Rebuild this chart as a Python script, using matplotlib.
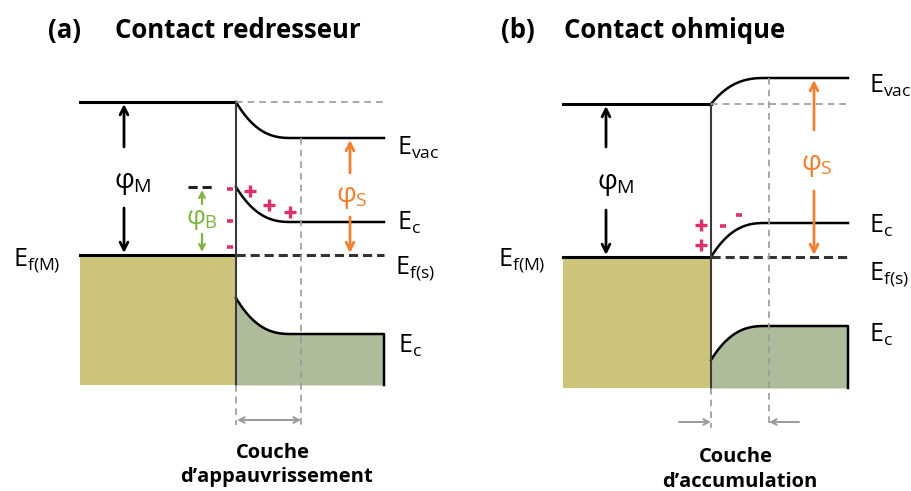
import numpy as np
import matplotlib
matplotlib.use("Agg")
from matplotlib import pyplot as plt

plt.rcParams['font.family'] = ['Open Sans', 'DejaVu Sans']
plt.rcParams['mathtext.fontset'] = 'custom'
plt.rcParams['mathtext.rm'] = 'Open Sans'
plt.rcParams['mathtext.it'] = 'Open Sans'

# niveaux d'énergie (pixels, y vers le bas)
# panneau (a) : contact redresseur
xa = [80, 236, 292, 384]        # bord métal, interface, fin de courbure, bord droit
evac_a = [102, 138]             # vide : interface, volume
ec_a = [187, 222]
ef_a = 255
ev_a = [298, 334]
bas_a = 385
zone_a = 301                    # limite de la couche d'appauvrissement

# panneau (b) : contact ohmique
xb = [563, 711, 766, 848]
evac_b = [104, 78]
ec_b = [257, 223]
ef_b = 257
ev_b = [360, 326]
bas_b = 388
zone_b = 769

# charges
plus_a = [(250, 191), (269, 205), (290, 212)]
moins_a = [(230, 189), (230, 221), (230, 247)]
plus_b = [(701, 225), (701, 245)]
moins_b = [(723, 226), (739, 215)]

METAL = '#cdc47c'
SEMI = '#aebc9b'
ORANGE = '#f08030'
VERT = '#7cb342'
ROUGE = '#e0306a'
GRIS = '#9a9a9a'


def bend(x0, x1, y0, y1, n=80):
    t = np.linspace(0, 1, n)
    return x0 + (x1 - x0) * t, y1 + (y0 - y1) * (1 - t) ** 2.6


def arrow(ax, x0, y0, x1, y1, color, lw=2.0, style='->', ms=14):
    ax.annotate('', xy=(x1, y1), xytext=(x0, y0),
                arrowprops=dict(arrowstyle=style, color=color, lw=lw,
                                mutation_scale=ms, shrinkA=0, shrinkB=0))


def panel(ax, xs, evac, ec, ef, ev, bas, zone):
    xm, xi, xc, xr = xs
    # métal
    ax.fill_between([xm, xi], ef, bas, color=METAL, lw=0)
    ax.plot([xm, xi], [evac[0], evac[0]], color='k', lw=2.2)
    ax.plot([xm, xi], [ef, ef], color='k', lw=2.2)
    # semi-conducteur
    x, y = bend(xi, xc, evac[0], evac[1])
    ax.plot(np.r_[x, xr], np.r_[y, evac[1]], color='k', lw=1.8)
    x, y = bend(xi, xc, ec[0], ec[1])
    ax.plot(np.r_[x, xr], np.r_[y, ec[1]], color='k', lw=1.8)
    x, y = bend(xi, xc, ev[0], ev[1])
    ax.fill_between(np.r_[x, xr], np.r_[y, ev[1]], bas, color=SEMI, lw=0)
    ax.plot(np.r_[x, xr, xr], np.r_[y, ev[1], bas], color='k', lw=1.8)
    ax.plot([xi, xr], [ef, ef], color='#333333', lw=2.2, ls=(0, (3, 1.6)))
    # interface
    ax.plot([xi, xi], [evac[0], bas], color='#3a3a3a', lw=1.5)
    # repères gris
    ax.plot([xi, xr + 2], [evac[0], evac[0]], color=GRIS, lw=1.2, ls=(0, (4, 3)))
    ax.plot([xi, xi], [bas, bas + 40], color=GRIS, lw=1.2, ls=(0, (4, 3)))
    ax.plot([zone, zone], [evac[1] if evac[1] > evac[0] else min(evac), bas + 40],
            color=GRIS, lw=1.2, ls=(0, (4, 3)))


fig = plt.figure(figsize=(9.12, 4.91), dpi=100)
ax = fig.add_axes([0, 0, 1, 1])
ax.set_xlim(0, 912)
ax.set_ylim(491, 0)
ax.axis('off')

panel(ax, xa, evac_a, ec_a, ef_a, ev_a, bas_a, zone_a)
panel(ax, xb, evac_b, ec_b, ef_b, ev_b, bas_b, zone_b)

# couche d'appauvrissement / d'accumulation
arrow(ax, xa[1] + 1, 420, zone_a, 420, GRIS, lw=1.4, style='<->', ms=10)
arrow(ax, 679, 422, xb[1], 422, GRIS, lw=1.4, ms=10)
arrow(ax, 799, 422, zone_b, 422, GRIS, lw=1.4, ms=10)

# phi_M
arrow(ax, 124, 147, 124, 104, 'k')
arrow(ax, 124, 208, 124, 253, 'k')
ax.text(133, 183, r'$φ_{\mathrm{M}}$', fontsize=20, ha='center', va='center')
arrow(ax, 606, 147, 606, 106, 'k')
arrow(ax, 606, 210, 606, 255, 'k')
ax.text(616, 184, r'$φ_{\mathrm{M}}$', fontsize=20, ha='center', va='center')

# phi_B
ax.plot([188, 215], [ec_a[0], ec_a[0]], color='#222222', lw=2.2, ls=(0, (3, 1.6)))
arrow(ax, 202, 204, 202, 190, VERT, lw=1.6, ms=10)
arrow(ax, 202, 234, 202, 252, VERT, lw=1.6, ms=10)
ax.text(202, 219, r'$φ_{\mathrm{B}}$', fontsize=19, ha='center', va='center', color=VERT)

# phi_S
arrow(ax, 350, 173, 350, 140, ORANGE)
arrow(ax, 350, 217, 350, 253, ORANGE)
ax.text(352, 197, r'$φ_{\mathrm{S}}$', fontsize=20, ha='center', va='center', color=ORANGE)
arrow(ax, 814, 130, 814, 80, ORANGE)
arrow(ax, 814, 191, 814, 255, ORANGE)
ax.text(817, 165, r'$φ_{\mathrm{S}}$', fontsize=20, ha='center', va='center', color=ORANGE)

# charges
for (x, y) in plus_a + plus_b:
    ax.plot(x, y, marker='+', ms=9, mew=2.4, color=ROUGE)
for (x, y) in moins_a + moins_b:
    ax.plot(x, y, marker='_', ms=5, mew=2.6, color=ROUGE)

# étiquettes
etiquettes = [
    (397, 155, r'E$_{\mathrm{vac}}$'), (397, 230, r'E$_{\mathrm{c}}$'),
    (395, 273, r'E$_{\mathrm{f(s)}}$'), (13, 265, r'E$_{\mathrm{f(M)}}$'),
    (398, 353, r'E$_{\mathrm{c}}$'),
    (869, 93, r'E$_{\mathrm{vac}}$'), (869, 233, r'E$_{\mathrm{c}}$'),
    (869, 279, r'E$_{\mathrm{f(s)}}$'), (498, 265, r'E$_{\mathrm{f(M)}}$'),
    (869, 342, r'E$_{\mathrm{c}}$'),
]
for x, y, s in etiquettes:
    ax.text(x, y, s, fontsize=18, ha='left', va='baseline')

# titres
ax.text(48, 38, '(a)', fontsize=18.5, fontweight='bold', va='baseline')
ax.text(115, 38, 'Contact redresseur', fontsize=18.5, fontweight='bold', va='baseline')
ax.text(501, 38, '(b)', fontsize=18.5, fontweight='bold', va='baseline')
ax.text(564, 38, 'Contact ohmique', fontsize=18.5, fontweight='bold', va='baseline')

ax.text(273, 458, 'Couche', fontsize=14.5, fontweight='bold', ha='center', va='baseline')
ax.text(277, 482, 'd’appauvrissement', fontsize=14.5, fontweight='bold', ha='center', va='baseline')
ax.text(736, 462, 'Couche', fontsize=14.5, fontweight='bold', ha='center', va='baseline')
ax.text(740, 487, 'd’accumulation', fontsize=14.5, fontweight='bold', ha='center', va='baseline')

fig.savefig('out.png', dpi=100)
